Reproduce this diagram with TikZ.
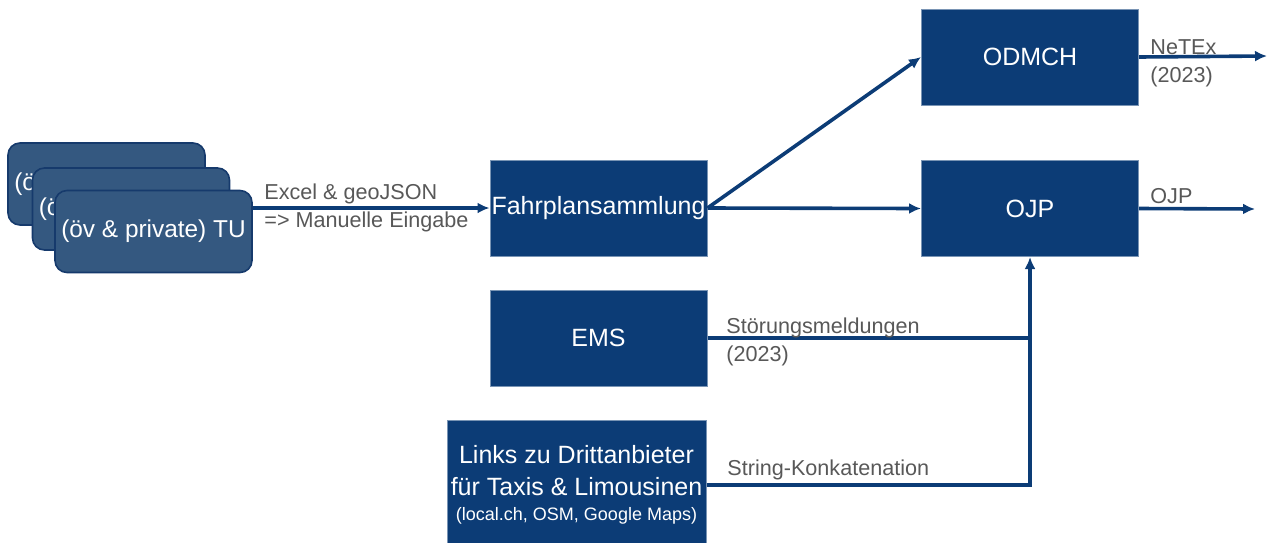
\documentclass[tikz,border=0pt]{standalone}
\usepackage{fontspec}
\setmainfont{Liberation Sans}
\usetikzlibrary{arrows.meta}

\definecolor{navy}{RGB}{12,60,118}
\definecolor{slate}{RGB}{52,88,128}
\definecolor{slateline}{RGB}{22,58,108}
\definecolor{labelgray}{RGB}{88,88,88}

\tikzset{
  block/.style={fill=navy, draw=navy!55!white, line width=0.5pt, text=white,
    inner sep=0pt, align=center, minimum width=108.5pt, minimum height=48pt,
    font=\fontsize{12.5}{16}\selectfont},
  operator/.style={fill=slate, draw=slateline, line width=0.8pt, text=white,
    rounded corners=6pt, inner sep=0pt, minimum width=98.5pt, minimum height=41pt,
    font=\fontsize{12.2}{15}\selectfont},
  flow/.style={draw=navy, line width=1.8pt},
  tag/.style={text=labelgray, inner sep=0pt, align=left,
    font=\fontsize{10.8}{14}\selectfont}
}

\begin{document}
\begin{tikzpicture}[x=0.5pt, y=-0.5pt, >={Latex[length=6pt,width=5.5pt]}]
\useasboundingbox (0,0) rectangle (1267,542);

% stack of transport operators
\foreach \px/\py [count=\i] in {106.5/184, 131/209, 153.5/231.5}
  \node [operator] (tu-\i) at (\px,\py) {(öv \& private) TU};

\node [block] (fahrplan) at (598.5,208) {Fahrplansammlung};
\node [block] (ems) at (598.5,338) {EMS};
\node [block] (odmch) at (1030,57) {ODMCH};
\node [block] (ojp) at (1030,208.5) {OJP};
\node [block, minimum width=129.5pt, minimum height=65pt] (links) at (576.5,485)
  {Links zu Drittanbieter\\für Taxis \& Limousinen\\[-3.5pt]
   {\fontsize{9}{12}\selectfont (local.ch, OSM, Google Maps)}};

\coordinate (netex-end) at (1267,56);
\coordinate (ojp-end) at (1255,209);

% connectors
\draw [flow, ->] (tu-3.east |- fahrplan.west) -- (fahrplan.west);
\draw [flow, ->] (fahrplan.east) -- (odmch.west);
\draw [flow, ->] (fahrplan.east) -- (ojp.west);
\draw [flow, ->] (odmch.east) -- (netex-end);
\draw [flow, ->] (ojp.east) -- (ojp-end);
\draw [flow] (ems.east) -- (ems.east -| ojp.south);
\draw [flow, ->] (links.east) -| (ojp.south);

% labels on the connectors
\node [tag, anchor=west] (excel-tag) at (264,208) {Excel \& geoJSON\\=> Manuelle Eingabe};
\node [tag, anchor=west] (netex-tag) at (1150,63) {NeTEx\\(2023)};
\node [tag, anchor=base west] (ojp-tag) at (1150,203) {OJP};
\node [tag, anchor=west] (ems-tag) at (726,341.5) {Störungsmeldungen\\(2023)};
\node [tag, anchor=base west] (links-tag) at (727,475) {String-Konkatenation};
\end{tikzpicture}
\end{document}
